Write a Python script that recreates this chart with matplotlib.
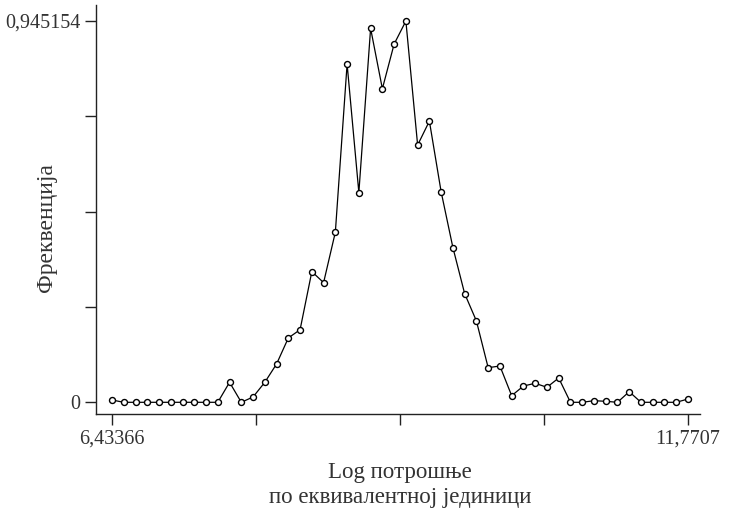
import numpy as np
import matplotlib
matplotlib.use("Agg")
import matplotlib.pyplot as plt

plt.rcParams['font.family'] = ['Liberation Serif', 'DejaVu Serif']

x_min = 6.43366
x_max = 11.7707
y_max = 0.945154

# frequency at each of the 50 evaluation points
freq = [0.0057, 0.0, 0.0, 0.0, 0.0, 0.0, 0.0, 0.0, 0.0, 0.0,
        0.0496, 0.0, 0.0132, 0.0496, 0.0950, 0.1595, 0.1800, 0.3240, 0.2967, 0.4217,
        0.8386, 0.5200, 0.9269, 0.7773, 0.8880, 0.945154, 0.6376, 0.6971, 0.5217, 0.3836,
        0.2694, 0.2017, 0.0858, 0.0900, 0.0164, 0.0404, 0.0471, 0.0372, 0.0603, 0.0,
        0.0, 0.0040, 0.0025, 0.0, 0.0263, 0.0, 0.0, 0.0, 0.0, 0.0082]
log_x = np.linspace(x_min, x_max, len(freq))

x_ticks = np.linspace(x_min, x_max, 5)
x_labels = ['6,43366', '', '', '', '11,7707']
y_ticks = np.linspace(0, y_max, 5)
y_labels = ['0', '', '', '', '0,945154']

txt = '#333333'

fig = plt.figure(figsize=(7.33, 5.08), dpi=100)
ax = fig.add_axes([96 / 733, 1 - 414 / 508, 604 / 733, 409 / 508])

ax.plot(log_x, freq, color='black', lw=0.9, marker='o', ms=4.3,
        mfc='white', mec='black', mew=1.0)

ax.set_xlim(6.2854, 11.8819)
ax.set_ylim(-0.029, 0.9849)

for s in ['top', 'right']:
    ax.spines[s].set_visible(False)
for s in ['left', 'bottom']:
    ax.spines[s].set_linewidth(1.0)
    ax.spines[s].set_color('#222222')

ax.set_xticks(x_ticks)
ax.set_xticklabels(x_labels)
ax.set_yticks(y_ticks)
ax.set_yticklabels(y_labels)
ax.tick_params(axis='both', direction='out', length=8, width=1.0,
               color='#222222', labelsize=14.5, labelcolor=txt, pad=3)

# axis titles placed in figure coordinates
fig.text(46 / 733, 1 - 228 / 508, 'Фреквенција', rotation=90,
         ha='center', va='center', fontsize=17, color=txt)
fig.text(400 / 733, 1 - 485 / 508, 'Log потрошње\nпо еквивалентној јединици',
         ha='center', va='center', fontsize=16.5, color=txt, linespacing=1.2)

fig.savefig('out.png', dpi=100)
